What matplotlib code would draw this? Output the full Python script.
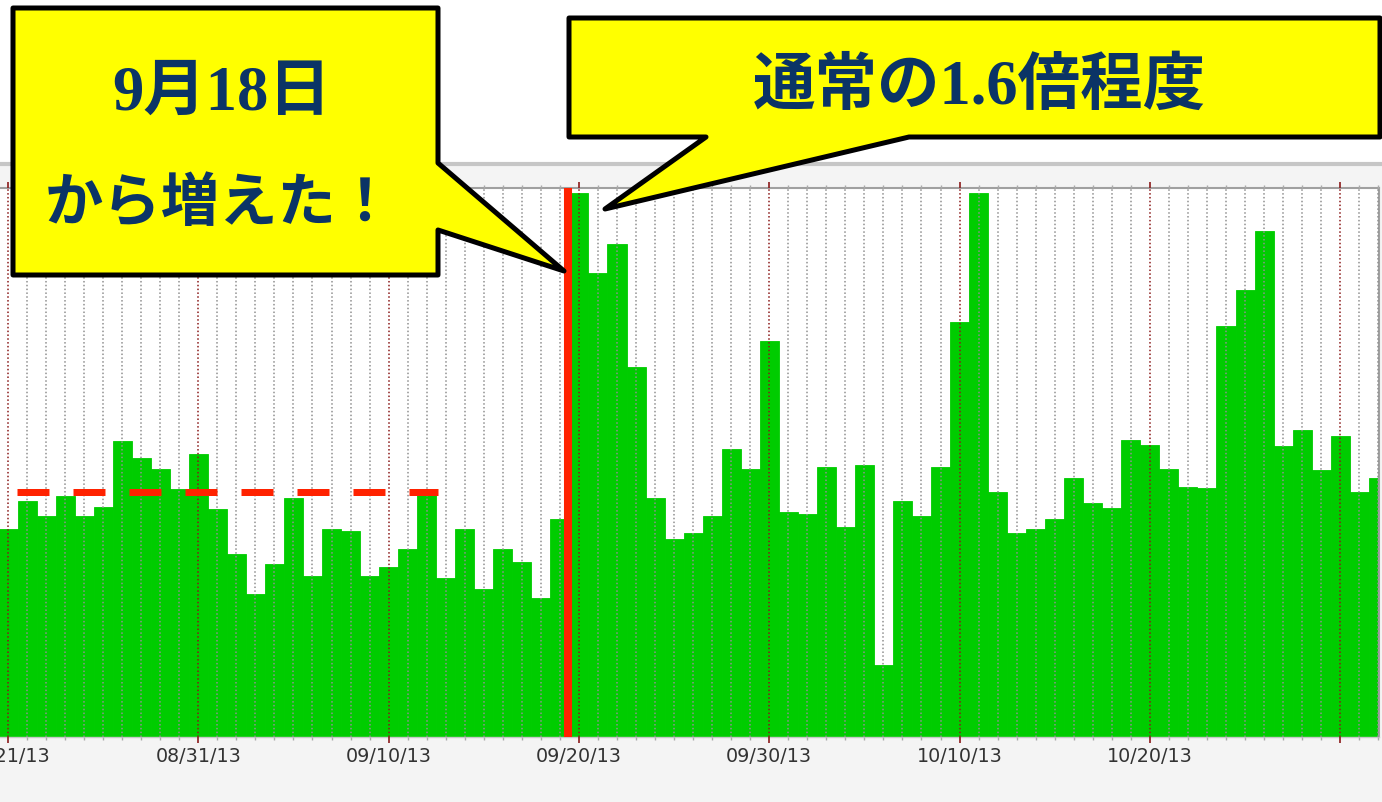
import numpy as np
import pandas as pd
import matplotlib
matplotlib.use('Agg')
import matplotlib.pyplot as plt
import matplotlib.dates as mdates
from matplotlib.patches import Polygon, Rectangle

# daily values (arbitrary units, axis has no labels)
start_day = '2013-08-21'
visits = [208, 236, 221, 241, 221, 230, 296, 279, 268, 248,
          283, 228, 183, 143, 173, 239, 161, 208, 206, 161,
          170, 188, 242, 159, 208, 148, 188, 175, 139, 218,
          544, 464, 493, 370, 239, 198, 204, 221, 288, 268,
          396, 225, 223, 270, 210, 272, 72, 236, 221, 270,
          415, 544, 245, 204, 208, 218, 259, 234, 229, 297,
          292, 268, 250, 249, 411, 447, 506, 291, 307, 267,
          301, 245, 259]
baseline_level = 245          # red dashed "usual" level
baseline_days = (0.47, 22.6)  # span of the dashed line, in days from start
change_offset = 29.4          # red vertical marker, days from start
note_left = ['9月18日', 'から増えた！']
note_right = '通常の1.6倍程度'

W, H = 1382, 802
fig = plt.figure(figsize=(W / 100, H / 100), dpi=100)

# grey panel behind the chart
bg = fig.add_axes([0, 0, 1, 1], zorder=0)
bg.set_xlim(0, W)
bg.set_ylim(H, 0)
bg.axis('off')
bg.add_patch(Rectangle((0, 164), W, H - 164, facecolor='#f4f4f4', edgecolor='none'))
bg.plot([0, W], [164, 164], color='#c6c6c6', lw=3)

ax = fig.add_axes([0, (H - 737) / H, 1379 / W, (737 - 188) / H], zorder=1)
ax.set_facecolor('white')

dates = pd.date_range(start_day, periods=len(visits))
x = mdates.date2num(dates)
ax.bar(x, visits, width=1.0, color='#00cc00', edgecolor='#00cc00', linewidth=0.6, zorder=1)

ax.set_xlim(x[0] - 0.42, x[0] + 72.04)
ax.set_ylim(0, 549)

major = x[::10]
labels = [d.strftime('%m/%d/%y') for d in dates[::10]]
labels[-1] = ''
ax.set_xticks(major)
ax.set_xticklabels(labels)
ax.set_xticks(x, minor=True)
ax.set_yticks([])

ax.set_axisbelow(False)
ax.grid(which='major', axis='x', color='#8b1a1a', ls=(0, (1, 1.5)), lw=1.1)
ax.grid(which='minor', axis='x', color='#909090', ls=(0, (1, 1.5)), lw=1.1)
ax.tick_params(axis='x', which='major', direction='out', length=4, width=1.2,
               color='#8b1a1a', top=True, labelsize=13.8, labelcolor='#333333', pad=3)
ax.tick_params(axis='x', which='minor', direction='out', length=2, width=1,
               color='#aaaaaa', top=True)
ax.tick_params(axis='y', left=False, labelleft=False)
for t in ax.get_xticklabels():
    t.set_family('DejaVu Sans')

ax.spines['left'].set_visible(False)
for s in ('top', 'right'):
    ax.spines[s].set_color('#a0a0a0')
    ax.spines[s].set_linewidth(1.5)
ax.spines['bottom'].set_color('#c8c8c8')
ax.spines['bottom'].set_linewidth(1)

ax.plot([x[0] + baseline_days[0], x[0] + baseline_days[1]], [baseline_level] * 2,
        color='#ff2200', lw=5.04, ls=(0, (4.57, 3.43)), dash_capstyle='butt', zorder=4)
ax.axvline(x[0] + change_offset, color='#ff2200', lw=5.8, zorder=4)

# speech-bubble callouts on top
ov = fig.add_axes([0, 0, 1, 1], zorder=3)
ov.set_xlim(0, W)
ov.set_ylim(H, 0)
ov.axis('off')
ov.patch.set_alpha(0)

bubble1 = [(13, 8), (438, 8), (438, 163), (564, 271), (438, 230), (438, 275), (13, 275)]
bubble2 = [(569, 18), (1380, 18), (1380, 137), (909, 137), (605, 209), (706, 137), (569, 137)]
for pts in (bubble1, bubble2):
    ov.add_patch(Polygon(pts, closed=True, facecolor='#ffff00', edgecolor='black',
                         lw=3.6, joinstyle='round'))

font = ['Liberation Serif', 'Noto Sans CJK JP']
navy = '#0b3466'
ov.text(222, 95, note_left[0], ha='center', va='center', fontsize=45,
        fontweight='bold', color=navy, family=font)
ov.text(220, 205, note_left[1], ha='center', va='center', fontsize=42,
        fontweight='bold', color=navy, family=font)
ov.text(979, 88, note_right, ha='center', va='center', fontsize=45,
        fontweight='bold', color=navy, family=font)

fig.savefig('out.png', dpi=100)
